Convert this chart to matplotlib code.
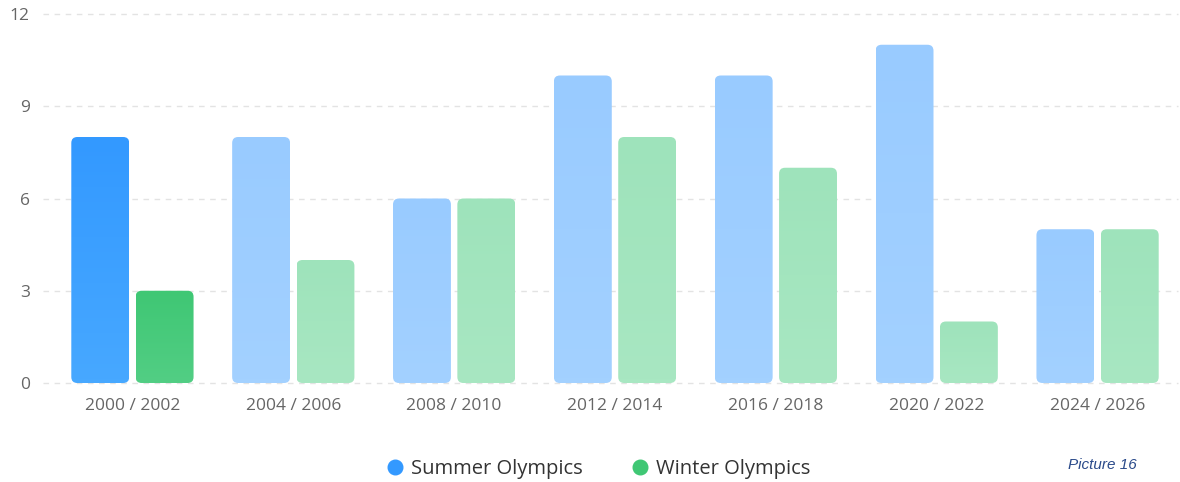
import numpy as np
import matplotlib
matplotlib.use("Agg")
import matplotlib.pyplot as plt
from matplotlib.patches import FancyBboxPatch
from matplotlib.lines import Line2D

categorias = ["2000 / 2002", "2004 / 2006", "2008 / 2010", "2012 / 2014",
              "2016 / 2018", "2020 / 2022", "2024 / 2026"]
verano = [8, 8, 6, 10, 10, 11, 5]
invierno = [3, 4, 6, 8, 7, 2, 5]
series = ["Summer Olympics", "Winter Olympics"]
yticks = [0, 3, 6, 9, 12]

plt.rcParams['font.family'] = ['Open Sans', 'DejaVu Sans']

fig = plt.figure(figsize=(11.8, 4.82), dpi=100)
ax = fig.add_axes([52 / 1180, 99 / 482, 1126 / 1180, 369 / 482])
ax.set_xlim(-0.5, len(categorias) - 0.5)
ax.set_ylim(0, 12)

# pixels por unidad para redondear esquinas
px_x = 1126 / len(categorias)
px_y = 369 / 12
aspecto = px_x / px_y
radio = 6 / px_x

ancho = 0.36
desplaz = 0.2

# colores: (arriba, abajo) para resaltado y atenuado
col_verano = [("#3399ff", "#47a8ff"), ("#99cbff", "#a3d1ff")]
col_invierno = [("#3fc774", "#52ce84"), ("#9ee3bb", "#a8e7c2")]


def barra(x, h, colores):
    izq = x - ancho / 2
    caja = FancyBboxPatch((izq, 0), ancho, h,
                          boxstyle=f"round,pad=0,rounding_size={radio}",
                          mutation_aspect=aspecto, facecolor="none",
                          edgecolor="none")
    ax.add_patch(caja)
    c1 = np.array(matplotlib.colors.to_rgb(colores[0]))
    c2 = np.array(matplotlib.colors.to_rgb(colores[1]))
    t = np.linspace(0, 1, 64)[:, None]
    grad = (c1 * (1 - t) + c2 * t)[:, None, :]
    im = ax.imshow(grad, extent=(izq, izq + ancho, 0, h), aspect="auto",
                   origin="upper", zorder=3)
    im.set_clip_path(caja)


for i in range(len(categorias)):
    k = 0 if i == 0 else 1
    barra(i - desplaz, verano[i], col_verano[k])
    barra(i + desplaz, invierno[i], col_invierno[k])

ax.set_xlim(-0.5, len(categorias) - 0.5)
ax.set_ylim(0, 12)
ax.set_aspect("auto")

# lineas de la rejilla, un poco mas a la izquierda del eje
for y in yticks:
    ax.plot([-9 / 1126, 1], [y / 12, y / 12], transform=ax.transAxes,
            color="#e3e3e3", lw=1, ls=(0, (4, 4)), zorder=1, clip_on=False)

for s in ax.spines.values():
    s.set_visible(False)
ax.set_yticks(yticks)
ax.set_xticks(range(len(categorias)))
ax.set_xticklabels(categorias)
ax.tick_params(axis="both", length=0, colors="#666666", labelsize=12.5)
ax.tick_params(axis="x", pad=11)
ax.tick_params(axis="y", pad=16)

manejadores = [Line2D([], [], marker="o", ls="none", markersize=10.5,
                      markerfacecolor=c, markeredgecolor=c)
               for c in ("#3399ff", "#3fc774")]
fig.legend(manejadores, series, loc="center", bbox_to_anchor=(0.5076, 0.027),
           ncol=2, frameon=False, fontsize=14.5, handlelength=0.8,
           handletextpad=0.4, columnspacing=2.45, labelcolor="#333333")

fig.text(1102 / 1180, 1 - 465 / 482, "Picture 16", ha="center", va="center",
         fontsize=11, style="italic", color="#2a4a8a", family="Liberation Sans")

fig.savefig("out.png", dpi=100, facecolor="white")
